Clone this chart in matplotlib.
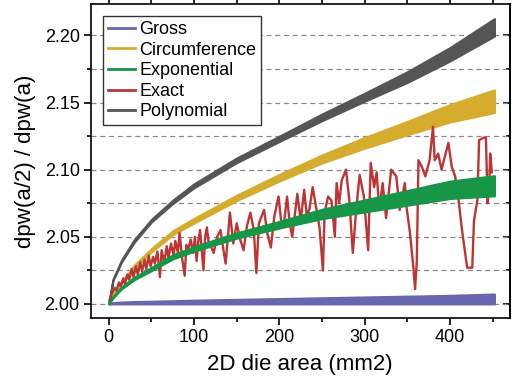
import numpy as np
import matplotlib.pyplot as plt
from matplotlib.ticker import MultipleLocator

plt.rcParams['font.family'] = ['Liberation Sans', 'DejaVu Sans']

# die area samples for the banded (sawtooth) series
band_x = [0, 5, 15, 30, 50, 75, 100, 150, 200, 250, 300, 350, 400, 452]

# band centre and band thickness
gross_c = [2.0003, 2.0005, 2.0007, 2.0009, 2.001, 2.0012, 2.0014, 2.0017, 2.002, 2.0023, 2.0026, 2.0029, 2.0032, 2.0037]
gross_w = [0.0006, 0.001, 0.0014, 0.0018, 0.002, 0.0024, 0.0028, 0.0034, 0.004, 0.0046, 0.0052, 0.0058, 0.0064, 0.0074]

circ_c = [2.000, 2.007, 2.016, 2.028, 2.040, 2.053, 2.062, 2.079, 2.094, 2.108, 2.120, 2.131, 2.142, 2.151]
circ_w = [0.0, 0.001, 0.0015, 0.002, 0.0025, 0.003, 0.0035, 0.004, 0.005, 0.006, 0.008, 0.010, 0.013, 0.017]

expo_c = [2.000, 2.005, 2.012, 2.019, 2.026, 2.035, 2.041, 2.051, 2.059, 2.067, 2.073, 2.079, 2.085, 2.088]
expo_w = [0.0, 0.001, 0.0015, 0.002, 0.0025, 0.003, 0.0035, 0.004, 0.005, 0.007, 0.009, 0.011, 0.013, 0.015]

poly_c = [2.000, 2.018, 2.032, 2.047, 2.062, 2.076, 2.088, 2.107, 2.123, 2.139, 2.154, 2.169, 2.186, 2.206]
poly_w = [0.0, 0.001, 0.0015, 0.002, 0.002, 0.0025, 0.003, 0.0035, 0.004, 0.005, 0.006, 0.008, 0.010, 0.013]

exact_x = [1, 4, 7, 9, 12, 14, 17, 19, 22, 24, 27, 29, 32, 34, 37, 39, 42, 44, 47, 49,
           52, 54, 57, 60, 62, 65, 68, 70, 73, 76, 78, 81, 83, 86, 89, 91, 93, 96, 99, 101,
           103, 105, 107, 109, 111, 113, 115, 117, 119,
           123, 127, 131, 134, 137, 142, 146, 150, 154, 158, 162, 166, 170, 173, 176, 182, 186,
           190, 194, 199, 202, 205, 209, 212, 215, 221, 225, 229, 232, 235, 239, 243, 247, 251,
           253, 257, 261, 265, 267, 270, 273, 278, 282, 286, 290, 294, 299, 304, 307, 311, 314,
           317, 321, 325, 331, 337, 341, 347, 349, 353, 357, 359, 361, 363, 367, 371, 376, 380,
           382, 386, 390, 394, 398, 402, 406, 410, 414, 420, 426, 428, 432, 434, 440, 442, 444,
           446, 447, 449]
exact_y = [2.003, 2.008, 2.012, 2.010, 2.016, 2.013, 2.019, 2.015, 2.022, 2.018, 2.026, 2.020,
           2.028, 2.022, 2.031, 2.024, 2.033, 2.026, 2.036, 2.028, 2.035, 2.030, 2.039, 2.020,
           2.040, 2.031, 2.043, 2.034, 2.045, 2.036, 2.047, 2.038, 2.053, 2.034, 2.021, 2.044,
           2.040, 2.048, 2.038, 2.050, 2.032, 2.047, 2.055, 2.040, 2.025, 2.050, 2.057, 2.046,
           2.044,
           2.038, 2.050, 2.055, 2.042, 2.030, 2.068, 2.045, 2.060, 2.048, 2.040, 2.058, 2.068,
           2.055, 2.023, 2.060, 2.070, 2.052, 2.042, 2.065, 2.080, 2.062, 2.058, 2.080, 2.060,
           2.050, 2.082, 2.062, 2.085, 2.066, 2.070, 2.087, 2.072, 2.057, 2.025, 2.068, 2.080,
           2.077, 2.050, 2.090, 2.075, 2.092, 2.100, 2.077, 2.038, 2.070, 2.096, 2.080, 2.040,
           2.105, 2.087, 2.098, 2.070, 2.090, 2.064, 2.100, 2.095, 2.070, 2.090, 2.072, 2.053,
           2.027, 2.011, 2.032, 2.107, 2.102, 2.095, 2.107, 2.132, 2.107, 2.112, 2.100, 2.110,
           2.120, 2.102, 2.095, 2.077, 2.055, 2.027, 2.027, 2.062, 2.077, 2.122, 2.124, 2.124,
           2.075, 2.090, 2.112, 2.098]

c_gross = '#6767AF'
c_circ = '#D6AC2E'
c_expo = '#179647'
c_exact = '#BB3535'
c_poly = '#555555'

fig = plt.figure(figsize=(5.16, 3.85), dpi=100)
ax = fig.add_axes([0.176, 0.174, 0.812, 0.816])

def band(c, w, col, z):
    c = np.array(c)
    w = np.array(w)
    ax.fill_between(band_x, c - w / 2, c + w / 2, color=col, lw=1.5, zorder=z)

band(gross_c, gross_w, c_gross, 3)
band(circ_c, circ_w, c_circ, 3)
ax.plot(exact_x, exact_y, color=c_exact, lw=1.7, zorder=4)
band(expo_c, expo_w, c_expo, 5)
band(poly_c, poly_w, c_poly, 3)

# legend proxies
for lab, c in [('Gross', c_gross), ('Circumference', c_circ), ('Exponential', c_expo),
               ('Exact', c_exact), ('Polynomial', c_poly)]:
    ax.plot([], [], color=c, lw=2, label=lab)

ax.set_xlim(-21, 470)
ax.set_ylim(1.9895, 2.2235)
ax.xaxis.set_major_locator(MultipleLocator(100))
ax.xaxis.set_minor_locator(MultipleLocator(50))
ax.yaxis.set_major_locator(MultipleLocator(0.05))
ax.yaxis.set_minor_locator(MultipleLocator(0.025))
ax.yaxis.set_major_formatter(plt.FormatStrFormatter('%.2f'))

for yv in np.arange(2.0, 2.21, 0.025):
    ax.axhline(yv, color='#888888', lw=0.9, ls=(0, (4, 3)), zorder=1)

ax.tick_params(which='both', direction='out', width=1.2, labelsize=13, pad=3)
ax.tick_params(which='major', length=5)
ax.tick_params(which='minor', length=3)
ax.tick_params(which='both', top=True)
for s in ax.spines.values():
    s.set_linewidth(1.2)

# right side ticks point inward
sec = ax.secondary_yaxis('right')
sec.yaxis.set_major_locator(MultipleLocator(0.05))
sec.yaxis.set_minor_locator(MultipleLocator(0.025))
sec.tick_params(which='both', direction='in', width=1.2, labelright=False)
sec.tick_params(which='major', length=5)
sec.tick_params(which='minor', length=3)
sec.spines['right'].set_linewidth(1.2)

ax.set_xlabel('2D die area (mm2)', fontsize=16, labelpad=6)
ax.set_ylabel('dpw(a/2) / dpw(a)', fontsize=16, labelpad=6)

leg = ax.legend(loc='upper left', fontsize=13, fancybox=False, edgecolor='#333333',
                framealpha=1, handlelength=1.5, handletextpad=0.25, labelspacing=0.2,
                borderpad=0.25, borderaxespad=0.7)
leg.get_frame().set_linewidth(1.0)

fig.savefig('out.png', dpi=100)
